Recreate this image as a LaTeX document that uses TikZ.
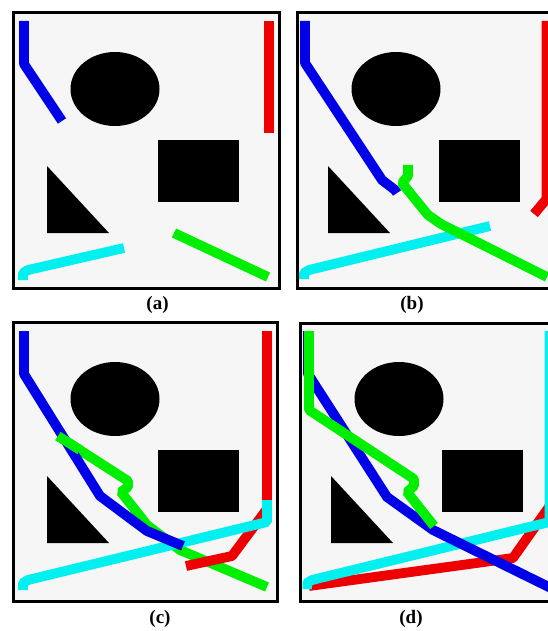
\documentclass[tikz,border=0pt]{standalone}
\usepackage{fontspec}
\setmainfont{Liberation Serif}
\definecolor{bgc}{RGB}{246,246,246}
\definecolor{pblue}{RGB}{0,0,232}
\definecolor{pred}{RGB}{238,0,0}
\definecolor{pgreen}{RGB}{0,238,0}
\definecolor{pcyan}{RGB}{0,240,240}
\newcommand\myobstacles{%
  \fill[black] (115,89) ellipse [x radius=44.5pt, y radius=37pt];
  \fill[black] (158,140) rectangle (239,202);
  \fill[black] (47,166) -- (47,233) -- (109,233) -- cycle;
}
\begin{document}
\begin{tikzpicture}[x=1pt,y=-1pt,
  track/.style={line width=9.8pt, line join=bevel, line cap=butt},
  frm/.style={draw=black, line width=3.3pt, fill=bgc},
  lbl/.style={font=\bfseries\fontsize{19}{21}\selectfont, inner sep=0pt}]
\useasboundingbox (0,0) rectangle (548,631);
\begin{scope}
\clip (0,0) rectangle (548,631);
% ---------------- panel a
\draw[frm] (13.6,12.6) rectangle (279.6,288.4);
\begin{scope}
  \clip (15.3,14.3) rectangle (277.9,286.7);
  \myobstacles
  \draw[track,pblue] (24,21) -- (24,64) -- (60,118) -- (62,121);
  \draw[track,pred] (269,21) -- (269,133);
  \draw[track,pcyan] (23,280) -- (23,273) -- (28,270) -- (124,248);
  \draw[track,pgreen] (174,233) -- (268,277);
\end{scope}
% ---------------- panel b
\draw[frm] (297.5,12.6) rectangle (563.5,288.4);
\begin{scope}
  \clip (299.2,14.3) rectangle (561.8,286.7);
  \begin{scope}[shift={(281,0)}]
  \myobstacles
  \draw[track,pblue] (24,21) -- (24,63) -- (101,180) -- (114,190) -- (116,193);
  \draw[track,pred] (265.5,21) -- (265.5,199) -- (253,214);
  \draw[track,pcyan] (23,279) -- (23,273) -- (28,270) -- (209,226);
  \draw[track,pgreen] (127,165) -- (127,176) -- (121,183) -- (147,215) -- (160,224) -- (266,277);
  \end{scope}
\end{scope}
% ---------------- panel c
\draw[frm] (13.6,322.6) rectangle (277.5,601.4);
\begin{scope}
  \clip (15.3,324.3) rectangle (275.8,599.7);
  \begin{scope}[shift={(0,310)}]
  \myobstacles
  \draw[track,pgreen] (58,126) -- (128,171) -- (128,177) -- (121,182) -- (147,215) -- (180,240) -- (267,277);
  \draw[track,pred] (267,21) -- (267,199) -- (232,246) -- (186,256);
  \draw[track,pcyan] (23,280) -- (23,273) -- (28,270) -- (267,212) -- (267,190);
  \draw[track,pblue] (24,21) -- (24,64) -- (100,186) -- (147,221) -- (183,236);
  \draw[track,pgreen] (58,126) -- (80,140);
  \end{scope}
\end{scope}
% ---------------- panel d
\draw[frm] (300.8,323.6) rectangle (566.8,601.3);
\begin{scope}
  \clip (302.5,325.3) rectangle (565.1,599.6);
  \begin{scope}[shift={(284,310)}]
  \myobstacles
  \draw[track,pred] (274,186) -- (265,197) -- (229,248) -- (25,276);
  \draw[track,pcyan] (23,279) -- (23,273) -- (28,270) -- (265.5,212) -- (265.5,21);
  \draw[track,pblue] (24,21) -- (24,64) -- (103,187) -- (149,220) -- (275,282);
  \draw[track,pgreen] (25,21) -- (25,100) -- (130,169) -- (130,176) -- (123,182) -- (150,216);
  \end{scope}
\end{scope}
\end{scope}
% ---------------- labels
\node[lbl] (la) at (157.5,305) {(a)};
\node[lbl] (lb) at (412,305) {(b)};
\node[lbl] (lc) at (160,619) {(c)};
\node[lbl] (ld) at (411,619) {(d)};
\end{tikzpicture}
\end{document}
